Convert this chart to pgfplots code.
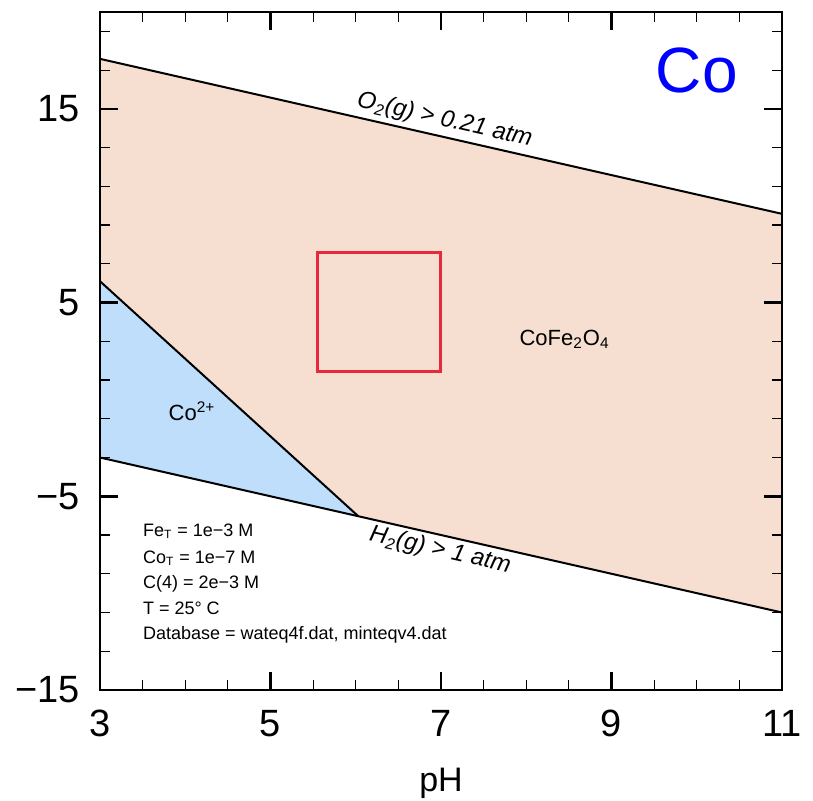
\documentclass[border=0pt]{standalone}
\usepackage{fontspec}
\setmainfont{Liberation Sans}
\usepackage{pgfplots}
\pgfplotsset{compat=1.18}
\definecolor{beige}{RGB}{246,223,208}
\definecolor{lblue}{RGB}{190,222,252}
\definecolor{rrect}{RGB}{232,40,60}
\begin{document}
\begin{tikzpicture}
\path[use as bounding box] (-50pt,-55.5pt) rectangle (356.5pt,345pt);
\begin{axis}[
  scale only axis, width=341pt, height=339pt,
  xmin=3, xmax=11, ymin=-15, ymax=20,
  axis line style={line width=1.3pt},
  xtick={3,5,7,9,11}, xticklabels={3,5,7,9,11},
  ytick={-15,-5,5,15}, yticklabels={−15,−5,5,15},
  minor xtick={3.5,4,4.5,5.5,6,6.5,7.5,8,8.5,9.5,10,10.5},
  minor ytick={-13,-11,-9,-7,-3,-1,1,3,7,9,11,13,17,19},
  major tick length=9pt, minor tick length=5pt,
  tick align=inside,
  major tick style={line width=1.3pt, black},
  minor tick style={line width=0.6pt, black},
  /pgf/number format/assume math mode=true,
  yticklabel style={font=\fontsize{19}{22}\selectfont, inner sep=0pt, xshift=-10pt},
  xticklabel style={font=\fontsize{19}{22}\selectfont, inner sep=0pt, yshift=-10pt},
  xlabel={pH},
  xlabel style={font=\fontsize{17}{20}\selectfont, at={(axis description cs:0.5,0)}, anchor=base, yshift=-51pt},
  clip=true,
  axis on top,
]
% stability fields
\addplot[fill=beige, draw=none] coordinates {(3,17.58) (11,9.58) (11,-11) (6.03,-6.03) (3,6.1)} -- cycle;
\addplot[fill=lblue, draw=none] coordinates {(3,6.1) (6.03,-6.03) (3,-3)} -- cycle;
% boundaries
\addplot[black, line width=1pt] coordinates {(3,17.58) (11,9.58)};
\addplot[black, line width=1pt] coordinates {(3,-3) (11,-11)};
\addplot[black, line width=1pt] coordinates {(3,6.1) (6.03,-6.03)};
% red rectangle
\addplot[rrect, line width=1.5pt] coordinates {(5.55,1.45) (7.0,1.45) (7.0,7.6) (5.55,7.6)} -- cycle;
% labels
\node[text=blue, font=\fontsize{32}{36}\selectfont] at (axis cs:10.0,17.0) {Co};
\node[rotate=-12.8, anchor=south, inner sep=2.5pt, font=\fontsize{12}{14}\selectfont\itshape] at (axis cs:7.0,13.58) {O\textsubscript{2}(g) > 0.21 atm};
\node[rotate=-12.8, anchor=north, inner sep=2pt, font=\fontsize{12}{14}\selectfont\itshape] at (axis cs:7.03,-7.03) {H\textsubscript{2}(g) > 1 atm};
\node[font=\fontsize{11}{13}\selectfont] at (axis cs:8.45,3.1) {CoFe\textsubscript{2}O\textsubscript{4}};
\node[font=\fontsize{11}{13}\selectfont] at (axis cs:4.08,-0.6) {Co\textsuperscript{2+}};
\node[anchor=base west, inner sep=0pt, font=\fontsize{9}{11}\selectfont] at (axis cs:3.5,-7.06) {Fe\textsubscript{T} = 1e−3 M};
\node[anchor=base west, inner sep=0pt, font=\fontsize{9}{11}\selectfont] at (axis cs:3.5,-8.45) {Co\textsubscript{T} = 1e−7 M};
\node[anchor=base west, inner sep=0pt, font=\fontsize{9}{11}\selectfont] at (axis cs:3.5,-9.76) {C(4) = 2e−3 M};
\node[anchor=base west, inner sep=0pt, font=\fontsize{9}{11}\selectfont] at (axis cs:3.5,-11.08) {T = 25° C};
\node[anchor=base west, inner sep=0pt, font=\fontsize{9}{11}\selectfont] at (axis cs:3.5,-12.37) {Database = wateq4f.dat, minteqv4.dat};
\end{axis}
\end{tikzpicture}
\end{document}
